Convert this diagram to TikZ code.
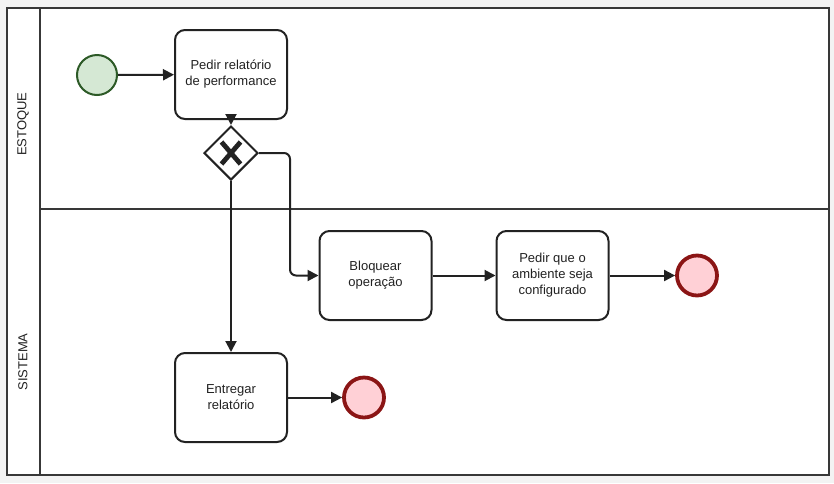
\documentclass[tikz,border=0pt]{standalone}
\usepackage{fontspec}
\setmainfont{Liberation Sans}
\usetikzlibrary{arrows.meta,shapes.geometric,positioning,calc}

\definecolor{fundo}{HTML}{F3F3F3}
\definecolor{linha}{HTML}{222222}
\definecolor{verde}{HTML}{D5E8D4}
\definecolor{verdeesc}{HTML}{2D5A27}
\definecolor{rosa}{HTML}{FFD0D6}
\definecolor{vinho}{HTML}{8B1515}

\tikzset{
  tarefa/.style={draw=linha, fill=white, rounded corners=10pt, line width=2pt,
    minimum width=112pt, minimum height=89pt, align=center, text=linha,
    font=\fontsize{13}{16}\selectfont},
  inicio/.style={circle, draw=verdeesc, fill=verde, line width=2pt, minimum size=40pt, inner sep=0pt},
  fim/.style={circle, draw=vinho, fill=rosa, line width=3.8pt, minimum size=40pt, inner sep=0pt},
  gateway/.style={diamond, draw=linha, fill=white, line width=2pt, minimum size=54pt, inner sep=0pt},
  seta/.style={draw=linha, line width=2pt, -{Triangle[length=11pt,width=11pt]}},
  raia/.style={rotate=90, text=linha, font=\fontsize{13}{15}\selectfont}
}

\begin{document}
\begin{tikzpicture}[x=1pt,y=-1pt]
        % 1. VARIÁVEIS
        \def\W{834}  % largura da figura
        \def\H{483}  % altura da figura
        \def\D{209}  % divisão entre as raias

        % ==========================================
        % 2. FUNDO E PISCINA
        % ==========================================
        \useasboundingbox (0,0) rectangle (\W,\H);
        \fill[fundo] (0,0) rectangle (\W,\H);
        \draw[linha!90, line width=2pt, fill=white] (7,8) rectangle (829,475);
        \draw[linha!90, line width=2pt] (40,8) -- (40,475);
        \draw[linha!90, line width=1.6pt] (40,\D) -- (829,\D);

        % Rótulos das raias
        \node[raia] (estoque) at (23,124) {ESTOQUE};
        \node[raia] (sistema) at (23,362) {SISTEMA};

        % ==========================================
        % 3. EVENTOS, TAREFAS E GATEWAY
        % ==========================================
        \node[inicio] (ini) at (97,75) {};
        \node[tarefa] (pedirrel) at (231,74.5) {Pedir relatório\\de performance};
        \node[gateway] (gw) at (231,153) {};
        \draw[linha, line width=4.8pt] ($(gw)+(-9.5,-11)$) -- ($(gw)+(9.5,11)$);
        \draw[linha, line width=4.8pt] ($(gw)+(9.5,-11)$) -- ($(gw)+(-9.5,11)$);

        \node[tarefa] (bloq) at (375.5,275.5) {Bloquear\\operação};
        \node[tarefa] (pediramb) at (552.5,275.5) {Pedir que o\\ambiente seja\\configurado};
        \node[fim] (fim1) at (697,275.5) {};

        \node[tarefa] (entregar) at (231,397.5) {Entregar\\relatório};
        \node[fim] (fim2) at (364,397.5) {};

        % ==========================================
        % 4. FLUXOS DE SEQUÊNCIA
        % ==========================================
        \draw[seta] (ini) -- (pedirrel);
        \draw[seta] (pedirrel) -- (gw);
        \draw[seta, rounded corners=6pt] (gw.east) -- ++(31,0) |- (bloq.west);
        \draw[seta] (gw.south) -- (entregar.north);
        \draw[seta] (bloq) -- (pediramb);
        \draw[seta] (pediramb) -- (fim1);
        \draw[seta] (entregar) -- (fim2);

    \end{tikzpicture}
\end{document}
